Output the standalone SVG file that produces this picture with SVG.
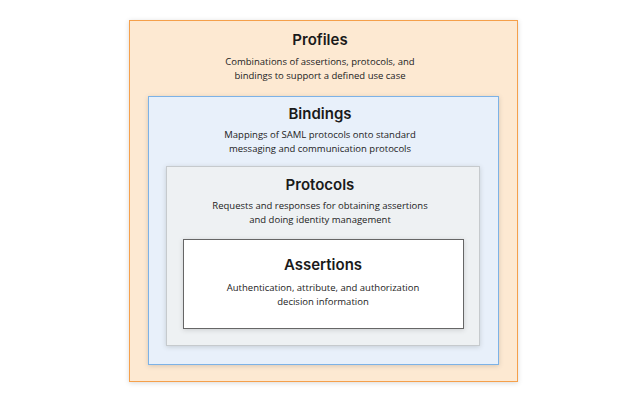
<svg xmlns="http://www.w3.org/2000/svg" width="640" height="400" viewBox="0 0 640 400">
<defs>
<filter id="sh" x="-10%" y="-10%" width="120%" height="120%">
<feDropShadow dx="0" dy="1" stdDeviation="2.5" flood-color="#000" flood-opacity="0.15"/>
</filter>
<style>
.t{font-family:Inter,"Noto Sans",sans-serif;font-weight:600;font-size:15px;fill:#1a1a1a;text-anchor:middle}
.s{font-family:"Open Sans","Noto Sans",sans-serif;font-size:9.5px;fill:#222;text-anchor:middle}
</style>
</defs>
<rect width="640" height="400" fill="#fff"/>
<g id="profiles">
<rect x="129.5" y="20.5" width="388" height="361" fill="#fde9d2" stroke="#f5a04c" stroke-width="1" filter="url(#sh)"/>
<text class="t" x="320" y="45">Profiles</text>
<text class="s" x="320" y="65">Combinations of assertions, protocols, and</text>
<text class="s" x="320" y="79">bindings to support a defined use case</text>
</g>
<g id="bindings">
<rect x="148.5" y="96.5" width="350" height="268" fill="#e8f0fa" stroke="#7db2e6" stroke-width="1" filter="url(#sh)"/>
<text class="t" x="320" y="119">Bindings</text>
<text class="s" x="320" y="137.5">Mappings of SAML protocols onto standard</text>
<text class="s" x="320" y="152">messaging and communication protocols</text>
</g>
<g id="protocols">
<rect x="166.5" y="166.5" width="313" height="179" fill="#eef1f3" stroke="#c6cacd" stroke-width="1" filter="url(#sh)"/>
<text class="t" x="320" y="190">Protocols</text>
<text class="s" x="320" y="208.5">Requests and responses for obtaining assertions</text>
<text class="s" x="320" y="223">and doing identity management</text>
</g>
<g id="assertions">
<rect x="183.5" y="239.5" width="280" height="89" fill="#ffffff" stroke="#666" stroke-width="1" filter="url(#sh)"/>
<text class="t" x="323" y="270">Assertions</text>
<text class="s" x="323" y="290.5">Authentication, attribute, and authorization</text>
<text class="s" x="323" y="304.5">decision information</text>
</g>
<g id="connectors"/>
</svg>
